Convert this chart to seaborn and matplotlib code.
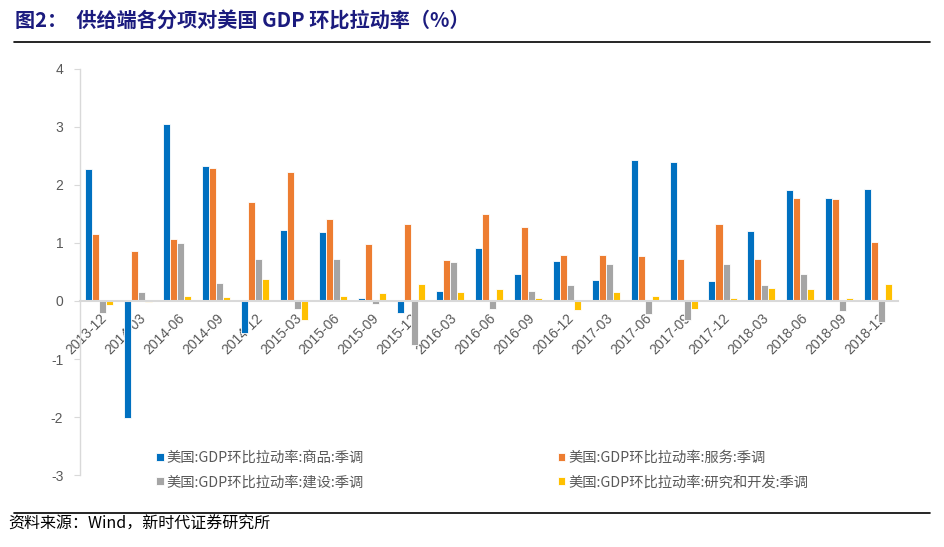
import pandas as pd
import matplotlib.pyplot as plt
import seaborn as sns
import numpy as np

sns.set_style("white")
plt.rcParams['font.family'] = ['Noto Sans CJK SC', 'DejaVu Sans']

# 数据
dates = ['2013-12', '2014-03', '2014-06', '2014-09', '2014-12', '2015-03', '2015-06',
         '2015-09', '2015-12', '2016-03', '2016-06', '2016-09', '2016-12', '2017-03',
         '2017-06', '2017-09', '2017-12', '2018-03', '2018-06', '2018-09', '2018-12']
goods = [2.27, -2.02, 3.05, 2.32, -0.55, 1.23, 1.19, 0.05, -0.20, 0.17, 0.92,
         0.47, 0.69, 0.37, 2.43, 2.40, 0.34, 1.20, 1.91, 1.77, 1.93]
services = [1.16, 0.87, 1.07, 2.30, 1.71, 2.23, 1.41, 0.98, 1.33, 0.71, 1.50,
            1.27, 0.80, 0.79, 0.77, 0.73, 1.32, 0.73, 1.78, 1.76, 1.01]
construction = [-0.20, 0.16, 1.00, 0.31, 0.72, -0.13, 0.73, -0.06, -0.75, 0.67, -0.14,
                0.18, 0.28, 0.63, -0.22, -0.33, 0.64, 0.28, 0.47, -0.18, -0.36]
rnd = [-0.07, -0.02, 0.09, 0.07, 0.38, -0.32, 0.09, 0.13, 0.30, 0.16, 0.20,
       0.06, -0.16, 0.16, 0.08, -0.14, 0.05, 0.22, 0.20, 0.06, 0.29]
yticks = [-3, -2, -1, 0, 1, 2, 3, 4]

series_names = ['美国:GDP环比拉动率:商品:季调', '美国:GDP环比拉动率:服务:季调',
                '美国:GDP环比拉动率:建设:季调', '美国:GDP环比拉动率:研究和开发:季调']
colors = ['#0070C0', '#ED7D31', '#A5A5A5', '#FFC000']

df = pd.DataFrame({'日期': dates * 4,
                   '值': goods + services + construction + rnd,
                   '系列': np.repeat(series_names, len(dates))})

fig = plt.figure(figsize=(9.44, 5.47), dpi=100)
ax = fig.add_axes([0.0847, 0.1316, 0.8663, 0.7423])

sns.barplot(data=df, x='日期', y='值', hue='系列', hue_order=series_names,
            palette=colors, width=0.72, edgecolor='white', linewidth=0.6,
            saturation=1, ax=ax, legend=True)

ax.set_ylim(-3, 4)
ax.set_xlim(-0.5, len(dates) - 0.5)
ax.set_yticks(yticks)
ax.set_yticklabels([str(t) for t in yticks])
ax.set_xlabel('')
ax.set_ylabel('')

# 坐标轴样式
for s in ['top', 'right']:
    ax.spines[s].set_visible(False)
ax.spines['bottom'].set_position(('data', 0))
ax.spines['bottom'].set_color('#d9d9d9')
ax.spines['bottom'].set_linewidth(1.5)
ax.spines['left'].set_color('#d9d9d9')
ax.spines['left'].set_linewidth(1.0)
ax.tick_params(axis='y', left=True, length=4, color='#d9d9d9', colors='#595959',
               labelsize=10, pad=8)
ax.tick_params(axis='x', bottom=False, colors='#595959', labelsize=10, pad=4)
for lbl in ax.get_yticklabels():
    lbl.set_family(['Liberation Sans', 'DejaVu Sans'])
for lbl in ax.get_xticklabels():
    lbl.set_rotation(45)
    lbl.set_ha('right')
    lbl.set_va('top')
    lbl.set_rotation_mode('anchor')
    lbl.set_family(['Liberation Sans', 'DejaVu Sans'])

# 图例（按行排列：商品、服务 / 建设、研发）
handles, labels = ax.get_legend_handles_labels()
order = [0, 2, 1, 3]
ax.legend([handles[i] for i in order], [labels[i] for i in order], ncol=2,
          loc='upper left', bbox_to_anchor=(0.152, 0.199),
          bbox_transform=fig.transFigure, frameon=False, fontsize=10.3,
          handlelength=0.5, handleheight=0.5, handletextpad=0.2,
          columnspacing=13.6, labelspacing=0.72, labelcolor='#595959')

# 标题与来源
fig.text(0.016, 0.962, '图2：  供给端各分项对美国 GDP 环比拉动率（%）', fontsize=14.5,
         fontweight='bold', color='#1b1b7e', va='center', ha='left')
fig.add_artist(plt.Line2D([0.015, 0.985], [0.923, 0.923], color='black', linewidth=1.2,
                          transform=fig.transFigure))
fig.add_artist(plt.Line2D([0.015, 0.985], [0.062, 0.062], color='black', linewidth=1.2,
                          transform=fig.transFigure))
fig.text(0.009, 0.041, '资料来源：Wind，新时代证券研究所', fontsize=11.5,
         color='black', va='center', ha='left')

plt.savefig('out.png', dpi=100)
plt.close()
